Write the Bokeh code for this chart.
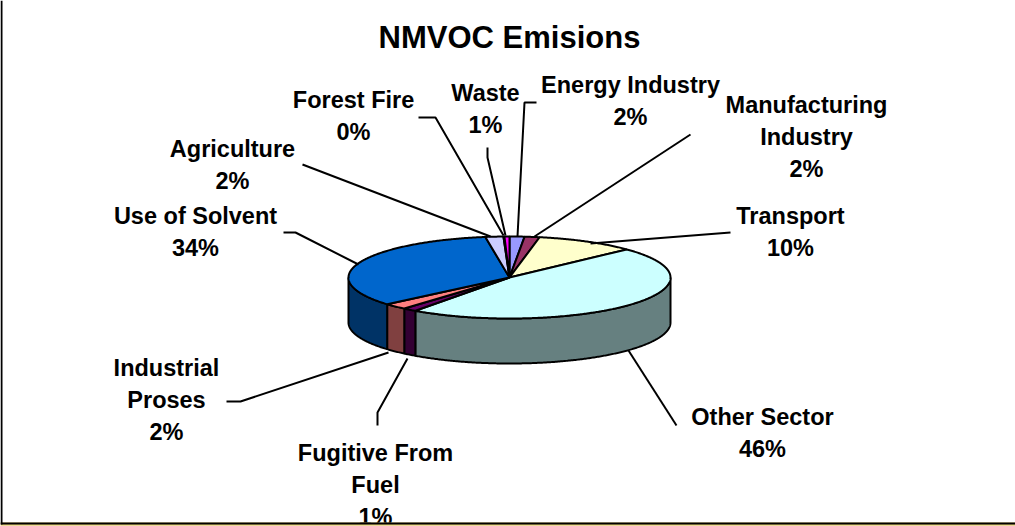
from bokeh.plotting import figure
from bokeh.embed import file_html
from bokeh.resources import INLINE
from bokeh.models import Range1d
from bokeh.core.properties import value
import numpy as np

categories = ["Energy Industry", "Manufacturing Industry", "Transport", "Other Sector", "Fugitive From Fuel",
              "Industrial Proses", "Use of Solvent", "Agriculture", "Forest Fire", "Waste"]
shares = [1.5, 1.5, 10.0, 47.0, 1.4, 2.4, 33.9, 1.8, 0.1, 0.5]
face_colors = ["#9999FF", "#993366", "#FFFFCC", "#CCFFFF", "#660066", "#FF8080", "#0066CC", "#CCCCFF", "#000080", "#FF00FF"]
side_colors = ["#4D4D80", "#4D1A33", "#808066", "#668080", "#330033", "#804040", "#003366", "#666680", "#000040", "#800080"]
label_lines = [["Energy Industry", "2%"], ["Manufacturing", "Industry", "2%"], ["Transport", "10%"], ["Other Sector", "46%"],
               ["Fugitive From", "Fuel", "1%"], ["Industrial", "Proses", "2%"], ["Use of Solvent", "34%"],
               ["Agriculture", "2%"], ["Forest Fire", "0%"], ["Waste", "1%"]]
label_x = [630, 806, 790, 762, 375, 166, 195, 232, 353, 485]
label_y = [84, 104, 215, 416, 452, 367, 215, 148, 99, 92]
leaders = [([536, 524, 517], [102, 102, 236]), ([690, 534], [134, 236]), ([730, 590], [232, 243]),
           ([676, 628], [425, 350]), ([377, 377, 407], [425, 412, 358]), ([226, 240, 388], [401, 401, 352]),
           ([283, 295, 358], [232, 232, 264]), ([302, 490], [164, 236]), ([418, 435, 503], [117, 117, 235]),
           ([487, 487, 505], [147, 157, 235])]

W, H = 1015, 526
CX, CY, RX, RY, DEPTH = 509, 277, 161, 41, 45

p = figure(width=W, height=H, x_range=Range1d(0, W), y_range=Range1d(H, 0), output_backend="svg",
           toolbar_location=None, min_border=0, outline_line_color=None, background_fill_color="white")
p.axis.visible = False
p.grid.visible = False
p.styles = {"position": "absolute", "left": "0", "top": "0"}

ends = np.cumsum(shares) / np.sum(shares) * 360.0
starts = np.concatenate([[0.0], ends[:-1]])

def rim(a0, a1):
    t = np.radians(np.linspace(a0, a1, max(2, int(abs(a1 - a0) * 2) + 2)))
    return CX + RX * np.sin(t), CY - RY * np.cos(t)

# side walls, only the front half (90..270 degrees clockwise from the top) is visible
for a0, a1, c in zip(starts, ends, side_colors):
    lo, hi = max(a0, 90.0), min(a1, 270.0)
    if hi <= lo:
        continue
    x, y = rim(lo, hi)
    p.patch(list(x) + list(x[::-1]), list(y) + list((y + DEPTH)[::-1]), fill_color=c, line_color="black", line_width=2)

# top faces
for a0, a1, c in zip(starts, ends, face_colors):
    x, y = rim(a0, a1)
    p.patch([CX] + list(x), [CY] + list(y), fill_color=c, line_color="black", line_width=2)

for (lx, ly) in leaders:
    p.line(lx, ly, line_color="black", line_width=2)

FONT = value("Liberation Sans")
for lines, x0, y0 in zip(label_lines, label_x, label_y):
    p.text([x0] * len(lines), [y0 + 32 * i for i in range(len(lines))], text=lines, text_font=FONT,
           text_font_style="bold", text_font_size="23.5px", text_align="center", text_baseline="middle", text_color="black")
p.text([509], [37], text=["NMVOC Emisions"], text_font=FONT, text_font_style="bold", text_font_size="31px",
       text_align="center", text_baseline="middle", text_color="black")

# frame
p.quad(left=[0], right=[W], top=[522], bottom=[H], fill_color="#E3C86E", line_color=None)
p.quad(left=[0], right=[W], top=[525], bottom=[H], fill_color="#F5EBC0", line_color=None)
p.quad(left=[0], right=[W], top=[522], bottom=[524], fill_color="black", line_color=None)
p.quad(left=[0], right=[2], top=[0], bottom=[524], fill_color="black", line_color=None)

open("out.html", "w").write(file_html(p, INLINE))
